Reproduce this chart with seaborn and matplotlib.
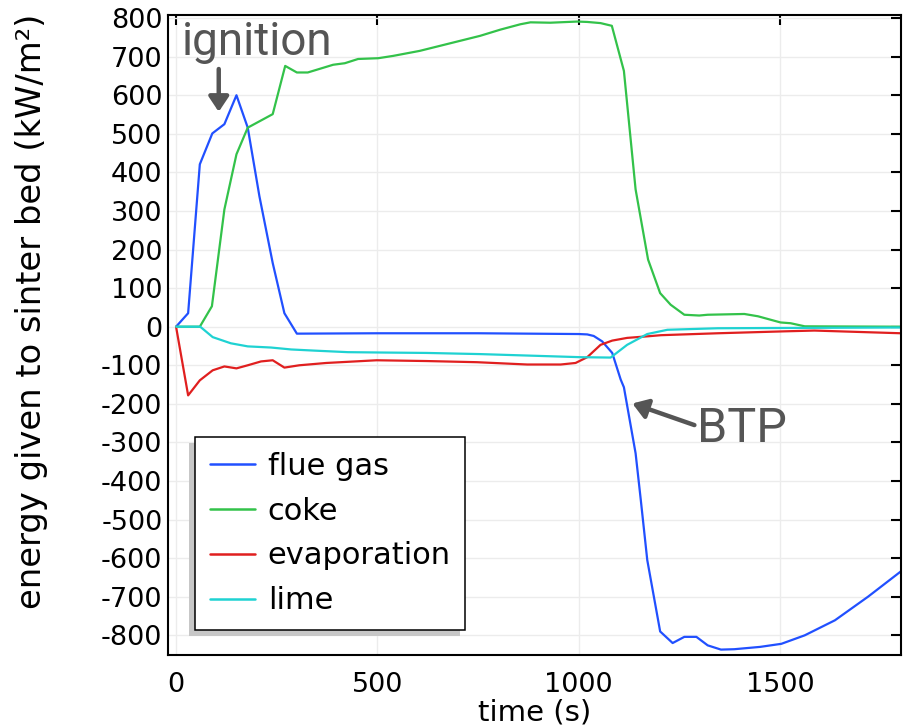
import matplotlib
matplotlib.use("Agg")
import matplotlib.pyplot as plt
import seaborn as sns
import pandas as pd
from matplotlib.lines import Line2D

# ---------------- data ----------------
t_flue = [0, 30, 59, 90, 120, 150, 178, 207, 240, 269, 300, 500, 750, 1000, 1021, 1037,
          1058, 1083, 1104, 1112, 1141, 1154, 1170, 1202, 1233, 1262, 1292, 1320, 1353,
          1386, 1450, 1503, 1561, 1636, 1718, 1800]
q_flue = [0, 35, 421, 501, 525, 600, 516, 338, 165, 35, -18, -17, -17, -19, -20, -24,
          -38, -68, -137, -157, -328, -450, -605, -790, -820, -804, -804, -826, -837,
          -836, -830, -822, -800, -761, -700, -634]

t_coke = [0, 59, 89, 120, 150, 178, 240, 271, 300, 327, 390, 419, 452, 502, 539, 605,
          655, 705, 755, 805, 855, 880, 929, 996, 1021, 1054, 1082, 1112, 1141, 1172,
          1202, 1228, 1262, 1299, 1320, 1411, 1445, 1501, 1526, 1561, 1800]
q_coke = [0, 0, 53, 304, 447, 516, 551, 676, 659, 659, 679, 683, 694, 696, 702, 715,
          728, 741, 754, 770, 784, 789, 788, 791, 790, 787, 780, 663, 356, 174,
          87, 57, 31, 29, 31, 33, 27, 11, 9, 1, 0]

t_evap = [0, 30, 59, 91, 120, 150, 178, 211, 240, 269, 306, 373, 498, 622, 747, 872,
          955, 992, 1021, 1054, 1083, 1120, 1170, 1204, 1345, 1511, 1585, 1677, 1800]
q_evap = [0, -178, -139, -113, -103, -108, -100, -90, -87, -106, -100, -94, -87, -89,
          -92, -98, -98, -94, -79, -47, -36, -29, -25, -22, -17, -12, -10, -13, -17]

t_lime = [0, 60, 91, 136, 178, 236, 286, 344, 427, 518, 622, 755, 1004, 1079, 1120,
          1170, 1220, 1345, 1800]
q_lime = [0, 0, -27, -43, -51, -54, -59, -62, -66, -67, -68, -71, -79, -80, -47,
          -19, -8, -4, -2]

series_names = ["flue gas", "coke", "evaporation", "lime"]
series_colors = ["#2150ff", "#33c24a", "#e01f1f", "#1fd2d2"]
x_ticks = [0, 500, 1000, 1500]
y_ticks = list(range(-800, 801, 100))

# ---------------- plot ----------------
sns.set_style("white")
plt.rcParams["font.family"] = ["DejaVu Sans"]
plt.rcParams["text.color"] = "black"
plt.rcParams["axes.labelcolor"] = "black"
plt.rcParams["xtick.color"] = "black"
plt.rcParams["ytick.color"] = "black"

fig = plt.figure(figsize=(9.04, 7.26), dpi=100)
ax = fig.add_axes([168 / 904, 71 / 726, 733 / 904, 640 / 726])

all_t = [t_flue, t_coke, t_evap, t_lime]
all_q = [q_flue, q_coke, q_evap, q_lime]
for name, col, t, q in zip(series_names, series_colors, all_t, all_q):
    df = pd.DataFrame({"t": t, "q": q})
    sns.lineplot(data=df, x="t", y="q", ax=ax, color=col, lw=1.6, sort=False,
                 estimator=None, label=None, legend=False)

ax.set_xlim(-20, 1800)
ax.set_ylim(-851, 808)
ax.set_xticks(x_ticks)
ax.set_yticks(y_ticks)
ax.set_yticklabels([str(v) for v in y_ticks])
ax.grid(True, color="#ececec", lw=1.0)
ax.set_axisbelow(True)

for s in ax.spines.values():
    s.set_color("black")
    s.set_linewidth(1.5)

ax.tick_params(axis="both", direction="in", top=True, right=True, length=7, width=1.5,
               labelsize=19.5, colors="black")
ax.tick_params(axis="x", pad=12.5)
ax.tick_params(axis="y", pad=4)

ax.set_xlabel("time (s)", fontsize=21, labelpad=0, color="black")
ax.set_ylabel("")
fig.text(32 / 904, 1 - 311 / 726, "energy given to sinter bed (kW/m²)", rotation=90,
         ha="center", va="center", fontsize=24.3, color="black")

# legend
handles = [Line2D([0], [0], color=c, lw=1.8) for c in series_colors]
leg = ax.legend(handles, series_names, loc="lower left",
                bbox_to_anchor=(0.0368, 0.039), borderaxespad=0, fontsize=22,
                frameon=True, fancybox=False, handlelength=1.5, handletextpad=0.4,
                labelspacing=0.52, borderpad=0.48,
                shadow={"ox": -4, "oy": -4, "facecolor": "0.78",
                        "edgecolor": "none", "alpha": 1})
leg.get_frame().set_edgecolor("black")
leg.get_frame().set_linewidth(1.1)
for txt in leg.get_texts():
    txt.set_color("black")

# annotations
gray = "#555555"
ax.text(202, 704, "ignition", fontsize=33, color=gray, ha="center", va="baseline",
        family=["Roboto", "DejaVu Sans"])
ax.annotate("", xy=(106, 557), xytext=(106, 668),
            arrowprops=dict(arrowstyle="-|>,head_length=0.45,head_width=0.3",
                            lw=3.2, color=gray, mutation_scale=20, shrinkA=0, shrinkB=0))
ax.text(1405, -298, "BTP", fontsize=35, color=gray, ha="center", va="baseline",
        family=["Roboto", "DejaVu Sans"])
ax.annotate("", xy=(1133, -199), xytext=(1287, -255),
            arrowprops=dict(arrowstyle="-|>,head_length=0.45,head_width=0.3",
                            lw=3.2, color=gray, mutation_scale=20, shrinkA=0, shrinkB=0))

fig.savefig("out.png", dpi=100)
